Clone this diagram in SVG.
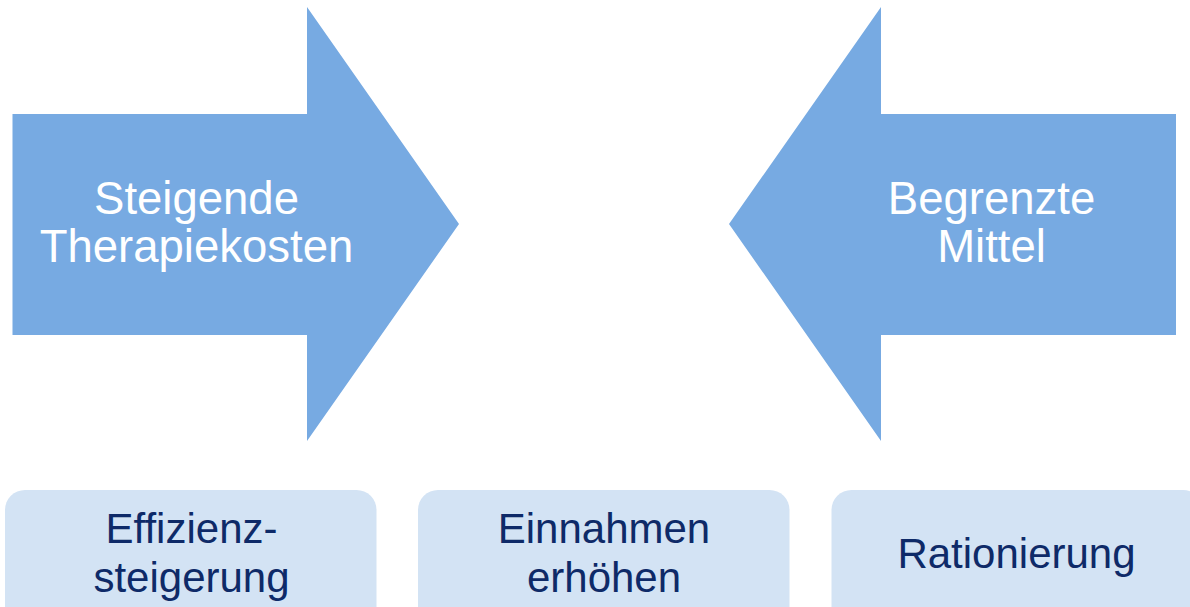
<svg xmlns="http://www.w3.org/2000/svg" width="1190" height="607" viewBox="0 0 1190 607">
<style>
.arrow{fill:#77AAE2}
.box{fill:#D3E3F4}
.wt{font-family:"Liberation Sans",Arial,sans-serif;font-size:45.5px;fill:#FFFFFF;text-anchor:middle}
.bt{font-family:"Liberation Sans",Arial,sans-serif;font-size:42px;fill:#0E2A68;text-anchor:middle}
</style>
<rect width="1190" height="607" fill="#FFFFFF"/>
<g id="arrow-left">
<polygon class="arrow" points="12.5,114 307,114 307,7 459,224 307,441 307,335 12.5,335"/>
<text class="wt" x="196.5" y="214">Steigende</text>
<text class="wt" x="196.5" y="262">Therapiekosten</text>
</g>
<g id="arrow-right">
<polygon class="arrow" points="1176,114 881,114 881,7 729,224 881,441 881,335 1176,335"/>
<text class="wt" x="991.5" y="214">Begrenzte</text>
<text class="wt" x="991.5" y="262">Mittel</text>
</g>
<g id="box-effizienz">
<rect class="box" x="5" y="490" width="371.5" height="140" rx="20" ry="20"/>
<text class="bt" x="191.5" y="543">Effizienz-</text>
<text class="bt" x="191.5" y="592">steigerung</text>
</g>
<g id="box-einnahmen">
<rect class="box" x="418" y="490" width="371.5" height="140" rx="20" ry="20"/>
<text class="bt" x="604" y="543">Einnahmen</text>
<text class="bt" x="604" y="592">erhöhen</text>
</g>
<g id="box-rationierung">
<rect class="box" x="831.5" y="490" width="371.5" height="140" rx="20" ry="20"/>
<text class="bt" x="1016.5" y="568">Rationierung</text>
</g>
<g id="connectors"/>
</svg>
